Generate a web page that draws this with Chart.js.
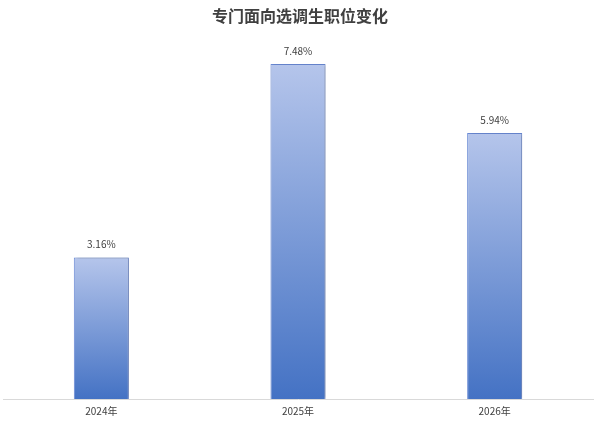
<!DOCTYPE html>
<html>
<head>
<meta charset="utf-8">
<script src="https://cdn.jsdelivr.net/npm/chart.js@4.4.1/dist/chart.umd.min.js"></script>
<style>
  html, body { margin: 0; padding: 0; background: #fff; }
  canvas { display: block; }
</style>
</head>
<body>
<canvas id="chart" width="601" height="421"></canvas>
<script>
const title = '专门面向选调生职位变化';
const years = ['2024年', '2025年', '2026年'];
const shares = [3.16, 7.48, 5.94];

const FONT = '"Noto Sans CJK SC", "Noto Sans", sans-serif';

function barGradient(ctx) {
  const chart = ctx.chart;
  if (!chart.chartArea || ctx.raw === undefined) return '#8ea6dc';
  const y = chart.scales.y;
  const top = y.getPixelForValue(ctx.raw);
  const base = y.getPixelForValue(0);
  const g = chart.ctx.createLinearGradient(0, top, 0, base);
  g.addColorStop(0, '#b5c5eb');
  g.addColorStop(1, '#4472c4');
  return g;
}

// title + value labels + soft bar shadow
const decor = {
  id: 'decor',
  beforeDatasetsDraw(chart) {
    const c = chart.ctx;
    c.save();
    c.shadowColor = 'rgba(0,0,0,0.22)';
    c.shadowBlur = 3;
    c.shadowOffsetX = 2;
    c.shadowOffsetY = 0;
  },
  afterDatasetsDraw(chart) {
    const c = chart.ctx;
    c.restore();
    c.save();
    c.fillStyle = '#404040';
    c.font = '10px ' + FONT;
    c.textAlign = 'center';
    c.textBaseline = 'bottom';
    chart.getDatasetMeta(0).data.forEach((bar, i) => {
      c.fillText(shares[i].toFixed(2) + '%', bar.x, bar.y - 8);
    });
    c.restore();
  },
  afterDraw(chart) {
    const c = chart.ctx;
    c.save();
    c.fillStyle = '#404040';
    c.font = 'bold 16px ' + FONT;
    c.textAlign = 'center';
    c.textBaseline = 'middle';
    c.fillText(title, 300, 16);
    c.restore();
  }
};

new Chart(document.getElementById('chart'), {
  type: 'bar',
  data: {
    labels: years,
    datasets: [{
      data: shares,
      backgroundColor: barGradient,
      borderColor: '#6a8ad6',
      borderWidth: 1,
      categoryPercentage: 1,
      barPercentage: 0.28
    }]
  },
  options: {
    responsive: false,
    animation: false,
    layout: { padding: { top: 40.6, left: 3, right: 8, bottom: -2 } },
    plugins: { legend: { display: false }, tooltip: { enabled: false } },
    scales: {
      x: {
        grid: { display: false, drawTicks: false, tickLength: 0 },
        border: { display: true, color: '#d9d9d9', width: 1 },
        ticks: { color: '#404040', font: { size: 10, family: FONT }, padding: 6 }
      },
      y: {
        display: false,
        min: 0,
        max: 8
      }
    }
  },
  plugins: [decor]
});
</script>
</body>
</html>
